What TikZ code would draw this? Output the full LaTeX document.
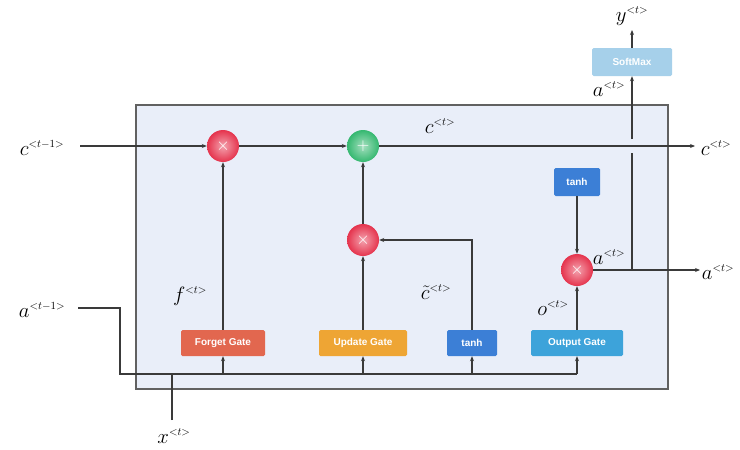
\documentclass[tikz,border=0pt]{standalone}
\usepackage{fontspec}
\setsansfont{Liberation Sans}
\usetikzlibrary{arrows.meta,shadings}
\definecolor{boxfill}{HTML}{E9EEF9}
\definecolor{lin}{HTML}{3A3A3A}
\definecolor{cforget}{HTML}{E2674F}
\definecolor{cupdate}{HTML}{EEA534}
\definecolor{ctanh}{HTML}{3C7FD6}
\definecolor{cout}{HTML}{3DA3DA}
\definecolor{csoft}{HTML}{A6D0EA}
\definecolor{cred}{HTML}{E5334D}
\definecolor{cgreen}{HTML}{35B870}
\newcommand\tg[1]{^{\scriptscriptstyle <#1>}}
\tikzset{
  lab/.style={font=\fontsize{22}{22}\selectfont},
  gate/.style={rectangle, rounded corners=1.5pt, minimum height=26pt, text=white, font=\sffamily\bfseries\fontsize{10}{10}\selectfont, inner sep=2pt},
  op/.style={circle, minimum size=32pt, inner sep=0pt, shading=radial, text=white, font=\fontsize{16}{16}\selectfont},
  redop/.style={op, inner color=white!55!cred, outer color=cred},
  greenop/.style={op, inner color=white!55!cgreen, outer color=cgreen},
  conn/.style={draw=lin, line width=1.1pt},
  arr/.style={conn, -{Stealth[length=5pt,width=4pt]}},
}
\begin{document}
\begin{tikzpicture}[x=1pt,y=-1pt]
\useasboundingbox (0,0) rectangle (740,450);
% main box
\draw[draw=lin!80, fill=boxfill, line width=1.1pt] (136,105) rectangle (668,389);

% operator nodes
\node[redop] (fx) at (223,146) {$\times$};
\node[greenop] (add) at (363,146) {$+$};
\node[redop] (ux) at (363,240) {$\times$};
\node[redop] (ox) at (577,270) {$\times$};

% gate boxes
\node[gate, fill=cforget, minimum width=84pt] (fg) at (223,343) {Forget Gate};
\node[gate, fill=cupdate, minimum width=88pt] (ug) at (363,343) {Update Gate};
\node[gate, fill=ctanh, minimum width=50pt] (th) at (472,343) {tanh};
\node[gate, fill=cout, minimum width=92pt] (og) at (577,343) {Output Gate};
\node[gate, fill=ctanh, minimum width=46pt, minimum height=28pt] (th2) at (577,182) {tanh};
\node[gate, fill=csoft, minimum width=80pt, minimum height=28pt] (sm) at (632,62) {SoftMax};

% coordinates
\coordinate (cin) at (80,146);
\coordinate (cout) at (695,146);
\coordinate (aout) at (700,270);
\coordinate (yout) at (632,30);
\coordinate (ain) at (78,308);
\coordinate (ac1) at (120,308);
\coordinate (ac2) at (120,374);
\coordinate (bf) at (223,374);
\coordinate (bu) at (363,374);
\coordinate (bt) at (472,374);
\coordinate (bo) at (577,374);
\coordinate (xin) at (172,420);
\coordinate (xj) at (172,374);
\coordinate (thc) at (472,240);
\coordinate (aj) at (632,270);
\coordinate (gap1) at (632,153);
\coordinate (gap2) at (632,139);

% cell state line
\draw[arr] (cin) -- (fx);
\draw[arr] (fx) -- (add);
\draw[arr] (add) -- (cout);

% gates to operators
\draw[arr] (fg) -- (fx);
\draw[arr] (ug) -- (ux);
\draw[arr] (ux) -- (add);
\draw[arr] (th) -- (thc) -- (ux);
\draw[arr] (og) -- (ox);
\draw[arr] (th2) -- (ox);

% outputs
\draw[arr] (ox) -- (aout);
\draw[conn] (aj) -- (gap1);
\draw[arr] (gap2) -- (sm);
\draw[arr] (sm) -- (yout);

% inputs
\draw[conn] (ain) -- (ac1) -- (ac2) -- (bo);
\draw[arr] (bo) -- (og);
\draw[arr] (bf) -- (fg);
\draw[arr] (bu) -- (ug);
\draw[arr] (bt) -- (th);
\draw[conn] (xin) -- (xj);

% labels
\node[lab] (l1) at (42,148) {$c\tg{t-1}$};
\node[lab] (l2) at (440,126) {$c\tg{t}$};
\node[lab] (l3) at (716,148) {$c\tg{t}$};
\node[lab] (l4) at (190,296) {$f\tg{t}$};
\node[lab] (l5) at (436,292) {$\tilde{c}\tg{t}$};
\node[lab] (l6) at (553,308) {$o\tg{t}$};
\node[lab] (l7) at (609,257) {$a\tg{t}$};
\node[lab] (l8) at (718,272) {$a\tg{t}$};
\node[lab] (l9) at (609,89) {$a\tg{t}$};
\node[lab] (l10) at (632,16) {$y\tg{t}$};
\node[lab] (l11) at (42,310) {$a\tg{t-1}$};
\node[lab] (l12) at (174,436) {$x\tg{t}$};
\end{tikzpicture}
\end{document}
